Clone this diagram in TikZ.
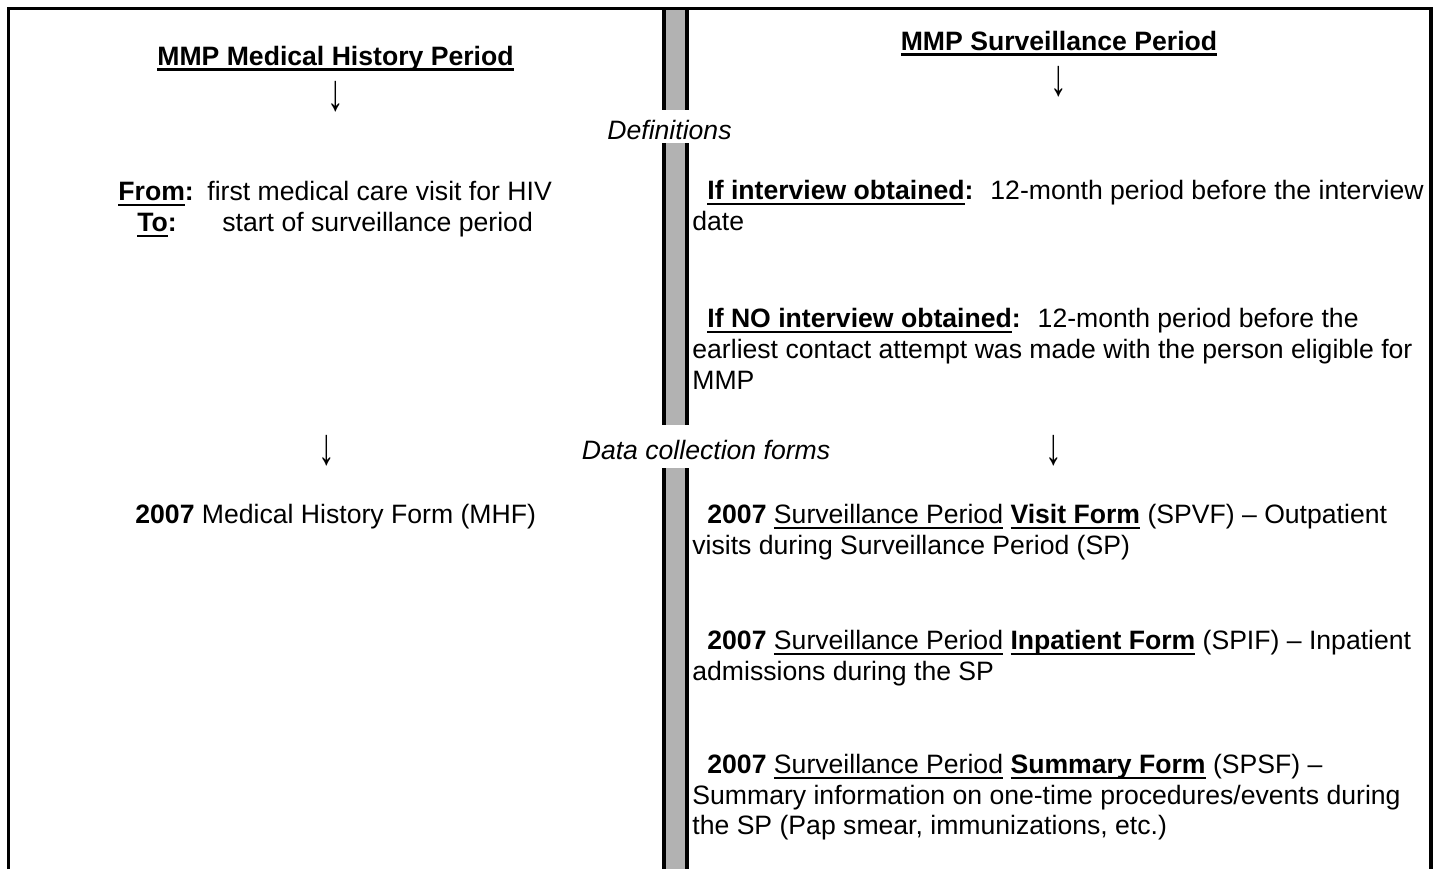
\documentclass[tikz,border=0pt]{standalone}
\usepackage{fontspec}
\usepackage{graphicx}
\setmainfont{Liberation Sans}
\definecolor{bargray}{RGB}{178,178,178}
\newsavebox\ulbox
\newcommand\ulin[2][1pt]{\sbox\ulbox{#2}\rlap{\rule[-2.75pt]{\wd\ulbox}{#1}}\usebox\ulbox}
\newcommand\gap{\hspace{8.5pt}}
\newcommand\downarr{\scalebox{1.25}[1.95]{↓}}
\begin{document}
\begin{tikzpicture}[x=0.5pt,y=-0.5pt,
  txt/.style={anchor=base west,inner sep=0pt,font=\fontsize{13.3}{16}\selectfont},
  ctxt/.style={anchor=base,inner sep=0pt,font=\fontsize{13.3}{16}\selectfont},
  arr/.style={anchor=center,inner sep=0pt,font=\fontsize{13.3}{16}\selectfont},
  frameline/.style={line width=1.5pt},
  barline/.style={line width=2pt}]
\useasboundingbox (0,0) rectangle (1435,869);
% frame
\draw[frameline] (8.5,869) -- (8.5,8.7) -- (1431,8.7);
\draw[line width=2pt] (1431,7.2) -- (1431,869);
% central bar
\foreach \a/\b in {10/110,143/425,468/869}{
  \fill[bargray] (664,\a) rectangle (687,\b);
  \draw[barline] (664,\a) -- (664,\b) (687,\a) -- (687,\b);
}
% headings
\node[ctxt] (hl) at (335.5,65) {\textbf{\ulin[1.2pt]{MMP Medical History Period}}};
\node[ctxt] (hr) at (1059,50) {\textbf{\ulin[1.2pt]{MMP Surveillance Period}}};
\node[arr] (a1) at (336,97) {\downarr};
\node[arr] (a2) at (1059,82) {\downarr};
\node[ctxt] (def) at (669.5,139) {\itshape Definitions};
% left definitions
\node[txt] (from) at (118,200) {\textbf{\ulin{From}:}};
\node[txt] (fromt) at (207,200) {first medical care visit for HIV};
\node[txt] (to) at (137,231) {\textbf{\ulin{To}:}};
\node[txt] (tot) at (222,231) {start of surveillance period};
% right definitions
\node[txt] (r1) at (707,199) {\textbf{\ulin{If interview obtained}:}\gap 12-month period before the interview};
\node[txt] (r1b) at (692,230) {date};
\node[txt] (r2) at (707,327) {\textbf{\ulin{If NO interview obtained}:}\gap 12-month period before the};
\node[txt] (r2b) at (692,358) {earliest contact attempt was made with the person eligible for};
\node[txt] (r2c) at (692,389) {MMP};
% data collection
\node[arr] (a3) at (327,451) {\downarr};
\node[arr] (a4) at (1054,451) {\downarr};
\node[ctxt] (dcf) at (706,459) {\itshape Data collection forms};
\node[txt] (mhf) at (135,523) {\textbf{2007} Medical History Form (MHF)};
\node[txt] (f1) at (707,523) {\textbf{2007} \ulin{Surveillance Period} \textbf{\ulin{Visit Form}} (SPVF) – Outpatient};
\node[txt] (f1b) at (692,554) {visits during Surveillance Period (SP)};
\node[txt] (f2) at (707,649) {\textbf{2007} \ulin{Surveillance Period} \textbf{\ulin{Inpatient Form}} (SPIF) – Inpatient};
\node[txt] (f2b) at (692,680) {admissions during the SP};
\node[txt] (f3) at (707,773) {\textbf{2007} \ulin{Surveillance Period} \textbf{\ulin{Summary Form}} (SPSF) –};
\node[txt] (f3b) at (692,804) {Summary information on one-time procedures/events during};
\node[txt] (f3c) at (692,834) {the SP (Pap smear, immunizations, etc.)};
\end{tikzpicture}
\end{document}
